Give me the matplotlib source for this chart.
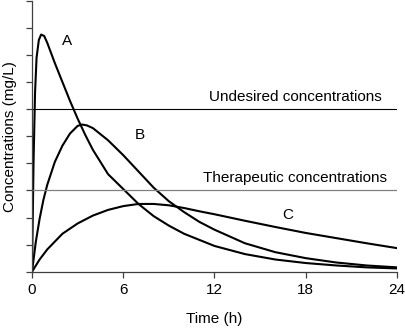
import matplotlib
matplotlib.use("Agg")
import matplotlib.pyplot as plt

plt.rcParams['font.family'] = ['Liberation Sans', 'DejaVu Sans']

# drug A: fast absorption
t_a = [0, 0.1, 0.2, 0.3, 0.45, 0.6, 0.8, 1.0, 1.5, 2.0, 2.5, 3.0, 3.5, 4.0, 5.0,
       6.0, 7.0, 8.0, 9.0, 10.0, 12.0, 14.0, 16.0, 18.0, 20.0, 22.0, 24.0]
c_a = [0, 4.0, 6.6, 7.9, 8.55, 8.75, 8.7, 8.45, 7.7, 7.0, 6.3, 5.65, 5.05, 4.5, 3.6,
       3.05, 2.5, 2.05, 1.7, 1.4, 0.95, 0.65, 0.45, 0.32, 0.23, 0.16, 0.12]

# drug B
t_b = [0, 0.25, 0.5, 0.75, 1.0, 1.5, 2.0, 2.5, 3.0, 3.3, 3.6, 4.0, 5.0, 6.0, 7.0,
       8.0, 9.0, 10.0, 11.0, 12.0, 14.0, 16.0, 18.0, 20.0, 22.0, 24.0]
c_b = [0, 1.1, 1.95, 2.65, 3.2, 4.05, 4.65, 5.1, 5.38, 5.43, 5.4, 5.3, 4.85, 4.3, 3.7,
       3.1, 2.6, 2.2, 1.84, 1.55, 1.05, 0.72, 0.5, 0.34, 0.23, 0.16]

# drug C: slow absorption
t_c = [0, 0.5, 1.0, 2.0, 3.0, 4.0, 5.0, 6.0, 7.0, 8.0, 9.0, 10.0, 11.0, 12.0,
       14.0, 16.0, 18.0, 20.0, 22.0, 24.0]
c_c = [0, 0.45, 0.82, 1.4, 1.78, 2.07, 2.28, 2.42, 2.5, 2.5, 2.45, 2.35, 2.23, 2.12,
       1.88, 1.65, 1.43, 1.24, 1.05, 0.87]

undesired = 6.0
therapeutic = 3.0
x_ticks = [0, 6, 12, 18, 24]

fig = plt.figure(figsize=(4.06, 3.3), dpi=100)
ax = fig.add_axes([32 / 406, 58.3 / 330, 365 / 406, 271 / 330])

ax.plot(t_a, c_a, color='black', lw=1.5)
ax.plot(t_b, c_b, color='black', lw=1.5)
ax.plot(t_c, c_c, color='black', lw=1.5)

ax.axhline(undesired, color='black', lw=0.8)
ax.axhline(therapeutic, color='#808080', lw=0.9)

fs = 11
ax.text(2.3, 8.5, 'A', fontsize=fs, ha='center', va='center')
ax.text(7.1, 5.05, 'B', fontsize=fs, ha='center', va='center')
ax.text(16.8, 2.08, 'C', fontsize=fs, ha='center', va='center')
ax.text(17.3, undesired + 0.2, 'Undesired concentrations', fontsize=fs,
        ha='center', va='bottom')
ax.text(17.3, therapeutic + 0.2, 'Therapeutic concentrations', fontsize=fs,
        ha='center', va='bottom')

ax.set_xlim(0, 24)
ax.set_ylim(0, 10)
ax.set_xticks(x_ticks)
ax.set_yticks(range(0, 11))
ax.set_yticklabels([])
ax.set_xlabel('Time (h)', fontsize=fs, labelpad=11)
ax.set_ylabel('Concentrations (mg/L)', fontsize=fs, labelpad=3)

for s in ['top', 'right']:
    ax.spines[s].set_visible(False)
for s in ['left', 'bottom']:
    ax.spines[s].set_color('#404040')
    ax.spines[s].set_linewidth(0.9)
ax.tick_params(direction='out', length=4, width=0.9, color='#404040',
               labelsize=fs, pad=4)

fig.savefig('out.png', dpi=100)
